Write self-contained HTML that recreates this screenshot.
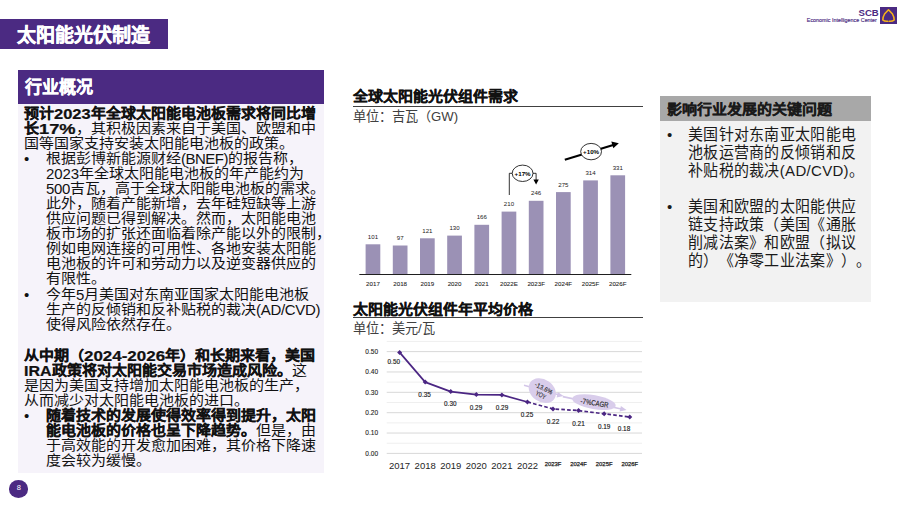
<!DOCTYPE html>
<html lang="zh-CN">
<head>
<meta charset="utf-8">
<style>
*{margin:0;padding:0;box-sizing:border-box}
html,body{width:903px;height:507px;overflow:hidden;background:#fff}
body{position:relative;text-spacing-trim:space-all;font-family:"Liberation Sans",sans-serif;color:#111}
.a{position:absolute;white-space:nowrap}
#tbar{left:0;top:19px;width:168px;height:30px;background:#4b2a82}
#ttl{left:17px;top:20.7px;height:30px;line-height:30px;font-size:19px;font-weight:bold;color:#fff;-webkit-text-stroke:0.45px #fff}
#hbox{left:18px;top:70px;width:306px;height:34px;background:#4b2a82}
#htxt{left:25px;top:70.5px;line-height:34px;font-size:17px;font-weight:bold;color:#fff;-webkit-text-stroke:0.35px #fff}
#lpanel{left:18px;top:103.6px;width:306px;height:369px;background:#f6f3fa}
.lt{font-size:15px;line-height:15px;color:#111;transform:scaleY(0.9);transform-origin:0 7.3px}
.b{font-weight:bold}
.sx{display:inline-block;transform-origin:0 78%}
.lt b{-webkit-text-stroke:0.25px #111}
.bul{font-size:15px;line-height:15px}
#rpanel{left:660px;top:121px;width:211px;height:181px;background:#f2f2f2}
#rhead{left:660px;top:96px;width:211px;height:25px;background:#a8a8a8}
#rhtxt{left:667px;top:96px;line-height:25px;font-size:15px;font-weight:bold;color:#1a1a1a;-webkit-text-stroke:0.25px #1a1a1a;transform:scaleY(0.92);transform-origin:0 12.5px}
.rt{font-size:15px;line-height:15px;color:#1a1a1a;letter-spacing:0.3px;transform:scaleY(1.03);transform-origin:0 7.3px}
.ct{font-size:15px;font-weight:bold;color:#111;line-height:15px;-webkit-text-stroke:0.25px #111;transform:scaleY(0.9);transform-origin:0 7.3px}
.cu{font-size:13.2px;color:#404040;line-height:13px}
.hr{height:1px;background:#404040}
#pg{left:8.6px;top:480.2px;width:19.6px;height:17.6px;border-radius:50%;background:#4b2a82;color:#fff;font-size:7.5px;line-height:15.4px;text-align:center;padding-left:1px}
</style>
</head>
<body>
<div class="a" id="tbar"></div>
<div class="a" id="ttl">太阳能光伏制造</div>

<!-- logo -->
<div class="a" style="left:858.6px;top:7.7px;font-size:9.6px;font-weight:bold;color:#4b2a82;line-height:10px;letter-spacing:-0.1px">SCB</div>
<div class="a" style="left:806.8px;top:17.2px;font-size:5.4px;color:#4b2a82;line-height:7px;-webkit-text-stroke:0.15px #4b2a82">Economic Intelligence Center</div>
<svg class="a" style="left:880px;top:7px" width="17" height="17" viewBox="0 0 17 17">
<rect width="17" height="17" fill="#4b2a82"/>
<path d="M7.7 14.3 Q4.3 14.5 2.8 13.0 Q3.0 9.4 4.5 7.1 L8.5 2.7 L12.5 7.1 Q14.0 9.4 14.2 13.0 Q12.7 14.5 9.3 14.3" fill="none" stroke="#f5b21a" stroke-width="1.55" stroke-linejoin="round" stroke-linecap="round"/>
</svg>

<div class="a" id="hbox"></div>
<div class="a" id="htxt">行业概况</div>
<div class="a" id="lpanel"></div>

<!--LTEXT-->
<div class="a lt" style="left:24.0px;top:106.4px"><b>预计<span class="sx" style="transform:scale(1.1,1.1);margin-right:3.4px">2023</span>年全球太阳能电池板需求将同比增</b></div>
<div class="a lt" style="left:24.0px;top:121.4px"><b>长<span class="sx" style="transform:scale(1.22,1.1);margin-right:6.6px">17%</span></b>，其积极因素来自于美国、欧盟和中</div>
<div class="a lt" style="left:24.0px;top:136.4px">国等国家支持安装太阳能电池板的政策。</div>
<div class="a lt" style="left:46.0px;top:151.4px">根据彭博新能源财经<span class="sx" style="letter-spacing:-0.5px;transform:scaleY(1.12)">(BNEF)</span>的报告称，</div>
<div class="a lt" style="left:46.0px;top:166.4px"><span class="sx" style="letter-spacing:-0.1px;transform:scaleY(1.14)">2023</span>年全球太阳能电池板的年产能约为</div>
<div class="a lt" style="left:46.0px;top:181.4px"><span class="sx" style="letter-spacing:-0.35px;transform:scaleY(1.14)">500</span>吉瓦，高于全球太阳能电池板的需求。</div>
<div class="a lt" style="left:46.0px;top:196.4px">此外，随着产能新增，去年硅短缺等上游</div>
<div class="a lt" style="left:46.0px;top:211.4px">供应问题已得到解决。然而，太阳能电池</div>
<div class="a lt" style="left:46.0px;top:226.4px">板市场的扩张还面临着除产能以外的限制，</div>
<div class="a lt" style="left:46.0px;top:241.4px">例如电网连接的可用性、各地安装太阳能</div>
<div class="a lt" style="left:46.0px;top:256.4px">电池板的许可和劳动力以及逆变器供应的</div>
<div class="a lt" style="left:46.0px;top:271.4px">有限性。</div>
<div class="a lt" style="left:46.0px;top:287.2px">今年<span class="sx" style="transform:scaleY(1.14)">5</span>月美国对东南亚国家太阳能电池板</div>
<div class="a lt" style="left:46.0px;top:302.2px">生产的反倾销和反补贴税的裁决<span class="sx" style="letter-spacing:-0.3px;transform:scaleY(1.12)">(AD/CVD)</span></div>
<div class="a lt" style="left:46.0px;top:317.2px">使得风险依然存在。</div>
<div class="a lt" style="left:24.0px;top:348.2px"><b>从中期（<span class="sx" style="transform:scale(1.13,1.1);margin-right:9.4px">2024-2026</span>年）和长期来看，美国</b></div>
<div class="a lt" style="left:24.0px;top:363.2px"><b><span class="sx" style="transform:scale(1.07,1.1);margin-right:1.8px">IRA</span>政策将对太阳能交易市场造成风险。</b>这</div>
<div class="a lt" style="left:24.0px;top:378.2px">是因为美国支持增加太阳能电池板的生产，</div>
<div class="a lt" style="left:24.0px;top:393.2px">从而减少对太阳能电池板的进口。</div>
<div class="a lt" style="left:46.0px;top:408.2px"><b>随着技术的发展使得效率得到提升，太阳</b></div>
<div class="a lt" style="left:46.0px;top:423.2px"><b>能电池板的价格也呈下降趋势。</b>但是，由</div>
<div class="a lt" style="left:46.0px;top:438.2px">于高效能的开发愈加困难，其价格下降速</div>
<div class="a lt" style="left:46.0px;top:453.2px">度会较为缓慢。</div>
<div class="a bul" style="left:24px;top:151.4px">•</div>
<div class="a bul" style="left:24px;top:287.2px">•</div>
<div class="a bul" style="left:24px;top:408.2px">•</div>
<!--/LTEXT-->


<!-- chart titles -->
<div class="a ct" style="left:353px;top:88.6px">全球太阳能光伏组件需求</div>
<div class="a hr" style="left:353px;top:105.5px;width:290px;height:1.2px"></div>
<div class="a cu" style="left:353px;top:109.8px">单位：吉瓦（GW)</div>
<div class="a ct" style="left:353px;top:301.9px">太阳能光伏组件年平均价格</div>
<div class="a hr" style="left:353px;top:317.2px;width:290px;height:1.2px"></div>
<div class="a cu" style="left:353px;top:321.9px">单位：美元/瓦</div>
<!--CHART-->
<svg class="a" style="left:0;top:0" width="903" height="507" viewBox="0 0 903 507"><style>
.bv{font:6.1px "Liberation Sans",sans-serif;fill:#222;text-anchor:middle}
.by{font:6.2px "Liberation Sans",sans-serif;fill:#222;stroke:#222;stroke-width:0.08px;text-anchor:middle}
.ann{font:bold 6.2px "Liberation Sans",sans-serif;fill:#000;text-anchor:middle}
.yl{font:6.5px "Liberation Sans",sans-serif;fill:#1a1a1a;stroke:#1a1a1a;stroke-width:0.1px;text-anchor:end}
.pv{font:6.4px "Liberation Sans",sans-serif;fill:#1a1a1a;stroke:#1a1a1a;stroke-width:0.15px;text-anchor:middle}
.ly{font:9.5px "Liberation Sans",sans-serif;fill:#262626;text-anchor:middle}
.lys{font:5.9px "Liberation Sans",sans-serif;fill:#222;stroke:#222;stroke-width:0.25px;text-anchor:middle}
.an2{font:6.6px "Liberation Sans",sans-serif;fill:#2e2e2e;stroke:#2e2e2e;stroke-width:0.12px;text-anchor:middle}
.an3{font:7.6px "Liberation Sans",sans-serif;fill:#2a2a2a;stroke:#2a2a2a;stroke-width:0.15px;text-anchor:middle}
</style>
<rect x="365.60" y="244.30" width="14.7" height="30.30" fill="#9b91b5"/>
<text x="372.95" y="238.80" class="bv">101</text>
<text x="372.95" y="285.90" class="by">2017</text>
<rect x="392.80" y="245.50" width="14.7" height="29.10" fill="#9b91b5"/>
<text x="400.15" y="240.00" class="bv">97</text>
<text x="400.15" y="285.90" class="by">2018</text>
<rect x="420.00" y="238.30" width="14.7" height="36.30" fill="#9b91b5"/>
<text x="427.35" y="232.80" class="bv">121</text>
<text x="427.35" y="285.90" class="by">2019</text>
<rect x="447.20" y="235.60" width="14.7" height="39.00" fill="#9b91b5"/>
<text x="454.55" y="230.10" class="bv">130</text>
<text x="454.55" y="285.90" class="by">2020</text>
<rect x="474.40" y="224.80" width="14.7" height="49.80" fill="#9b91b5"/>
<text x="481.75" y="219.30" class="bv">166</text>
<text x="481.75" y="285.90" class="by">2021</text>
<rect x="501.60" y="211.60" width="14.7" height="63.00" fill="#9b91b5"/>
<text x="508.95" y="206.10" class="bv">210</text>
<text x="508.95" y="285.90" class="by">2022E</text>
<rect x="528.80" y="200.80" width="14.7" height="73.80" fill="#9b91b5"/>
<text x="536.15" y="195.30" class="bv">246</text>
<text x="536.15" y="285.90" class="by">2023F</text>
<rect x="556.00" y="192.10" width="14.7" height="82.50" fill="#9b91b5"/>
<text x="563.35" y="186.60" class="bv">275</text>
<text x="563.35" y="285.90" class="by">2024F</text>
<rect x="583.20" y="180.40" width="14.7" height="94.20" fill="#9b91b5"/>
<text x="590.55" y="174.90" class="bv">314</text>
<text x="590.55" y="285.90" class="by">2025F</text>
<rect x="610.40" y="175.30" width="14.7" height="99.30" fill="#9b91b5"/>
<text x="617.75" y="169.80" class="bv">331</text>
<text x="617.75" y="285.90" class="by">2026F</text>
<rect x="359.3" y="274" width="272" height="1" fill="#1f1f1f"/>
<path d="M509.3 195 V173.3 H512.5" fill="none" stroke="#000" stroke-width="0.8"/>
<ellipse cx="522.6" cy="173.3" rx="10.4" ry="8.2" fill="#fff" stroke="#000" stroke-width="0.8"/>
<path d="M533 173.3 H536.1 V180" fill="none" stroke="#000" stroke-width="0.8"/>
<path d="M533.4 179.6 L538.8 179.6 L536.1 184.6 Z" fill="#000"/>
<text x="522.6" y="175.6" class="ann">+17%</text>
<path d="M564.8 159.8 L614 144.7" fill="none" stroke="#000" stroke-width="2"/>
<path d="M618.8 143.2 L611.3 141.6 L613.3 148.3 Z" fill="#000"/>
<ellipse cx="591.1" cy="151.6" rx="10.4" ry="8.2" fill="#fff" stroke="#000" stroke-width="0.8"/>
<text x="591.1" y="153.9" class="ann">+10%</text>
<rect x="386.7" y="452.90" width="255.3" height="1" fill="#d9d9d9"/>
<text x="378" y="455.60" class="yl">0.00</text>
<rect x="386.7" y="442.72" width="255.3" height="1" fill="#efefef"/>
<rect x="386.7" y="432.54" width="255.3" height="1" fill="#d9d9d9"/>
<text x="378" y="435.24" class="yl">0.10</text>
<rect x="386.7" y="422.36" width="255.3" height="1" fill="#efefef"/>
<rect x="386.7" y="412.18" width="255.3" height="1" fill="#d9d9d9"/>
<text x="378" y="414.88" class="yl">0.20</text>
<rect x="386.7" y="402.00" width="255.3" height="1" fill="#efefef"/>
<rect x="386.7" y="391.82" width="255.3" height="1" fill="#d9d9d9"/>
<text x="378" y="394.52" class="yl">0.30</text>
<rect x="386.7" y="381.64" width="255.3" height="1" fill="#efefef"/>
<rect x="386.7" y="371.46" width="255.3" height="1" fill="#d9d9d9"/>
<text x="378" y="374.16" class="yl">0.40</text>
<rect x="386.7" y="361.28" width="255.3" height="1" fill="#efefef"/>
<rect x="386.7" y="351.10" width="255.3" height="1" fill="#d9d9d9"/>
<text x="378" y="353.80" class="yl">0.50</text>
<rect x="386.7" y="340.92" width="255.3" height="1" fill="#efefef"/>
<polyline points="399.60,352.40 425.17,382.10 450.74,391.60 476.31,394.60 501.88,394.90 527.45,402.00" fill="none" stroke="#4b2683" stroke-width="1.7" stroke-linejoin="round"/>
<polyline points="527.45,402.00 553.02,408.90 578.59,410.60 604.16,413.80 629.73,417.00" fill="none" stroke="#4b2683" stroke-width="1.7" stroke-dasharray="3.6 2.2"/>
<path d="M399.60 349.90 L402.10 352.40 L399.60 354.90 L397.10 352.40 Z" fill="#4b2683"/>
<path d="M425.17 379.60 L427.67 382.10 L425.17 384.60 L422.67 382.10 Z" fill="#4b2683"/>
<path d="M450.74 389.10 L453.24 391.60 L450.74 394.10 L448.24 391.60 Z" fill="#4b2683"/>
<path d="M476.31 392.10 L478.81 394.60 L476.31 397.10 L473.81 394.60 Z" fill="#4b2683"/>
<path d="M501.88 392.40 L504.38 394.90 L501.88 397.40 L499.38 394.90 Z" fill="#4b2683"/>
<path d="M527.45 399.50 L529.95 402.00 L527.45 404.50 L524.95 402.00 Z" fill="#4b2683"/>
<path d="M553.02 406.40 L555.52 408.90 L553.02 411.40 L550.52 408.90 Z" fill="#4b2683"/>
<path d="M578.59 408.10 L581.09 410.60 L578.59 413.10 L576.09 410.60 Z" fill="#4b2683"/>
<path d="M604.16 411.30 L606.66 413.80 L604.16 416.30 L601.66 413.80 Z" fill="#4b2683"/>
<path d="M629.73 414.50 L632.23 417.00 L629.73 419.50 L627.23 417.00 Z" fill="#4b2683"/>
<text x="393.80" y="364.00" class="pv">0.50</text>
<text x="424.60" y="396.70" class="pv">0.35</text>
<text x="450.30" y="406.30" class="pv">0.30</text>
<text x="476.00" y="410.00" class="pv">0.29</text>
<text x="502.00" y="410.40" class="pv">0.29</text>
<text x="527.00" y="417.30" class="pv">0.25</text>
<text x="553.00" y="424.20" class="pv">0.22</text>
<text x="578.50" y="425.60" class="pv">0.21</text>
<text x="604.20" y="428.90" class="pv">0.19</text>
<text x="624.00" y="431.10" class="pv">0.18</text>
<text x="399.60" y="468.6" class="ly">2017</text>
<text x="425.17" y="468.6" class="ly">2018</text>
<text x="450.74" y="468.6" class="ly">2019</text>
<text x="476.31" y="468.6" class="ly">2020</text>
<text x="501.88" y="468.6" class="ly">2021</text>
<text x="527.45" y="468.6" class="ly">2022</text>
<text x="553.02" y="466.3" class="lys">2023F</text>
<text x="578.59" y="466.3" class="lys">2024F</text>
<text x="604.16" y="466.3" class="lys">2025F</text>
<text x="629.73" y="466.3" class="lys">2026F</text>
<path d="M524 385.3 L559.5 395" stroke="#d3c6e8" stroke-width="1.6" fill="none"/>
<path d="M563.5 396.1 L557.8 391.9 L556.6 397.6 Z" fill="#d3c6e8"/>
<ellipse cx="542.3" cy="390.6" rx="14.6" ry="11.2" transform="rotate(35 542.3 390.6)" fill="#d9cdeb"/>
<text transform="translate(542.8 390.4) rotate(27)" class="an2" textLength="19" lengthAdjust="spacingAndGlyphs">-13.6%</text>
<text transform="translate(539.8 397.0) rotate(27)" class="an2" textLength="11" lengthAdjust="spacingAndGlyphs">YOY</text>
<path d="M562.8 396.6 L622.6 409.2" stroke="#d3c6e8" stroke-width="1.6" fill="none"/>
<path d="M626.5 410 L620.9 405.9 L619.6 411.6 Z" fill="#d3c6e8"/>
<ellipse cx="594" cy="402.2" rx="22" ry="7" transform="rotate(10 594 402.2)" fill="#d9cdeb"/>
<text transform="translate(594.2 405.6) rotate(9)" class="an3" textLength="28" lengthAdjust="spacingAndGlyphs">-7%CAGR</text>
</svg>
<!--/CHART-->
<div class="a" id="pg">8</div>

<!-- right panel -->
<div class="a" id="rhead"></div>
<div class="a" id="rhtxt">影响行业发展的关键问题</div>
<div class="a" id="rpanel"></div>
<!--RTEXT-->
<div class="a rt" style="left:688px;top:126.6px">美国针对东南亚太阳能电</div>
<div class="a rt" style="left:688px;top:144.7px">池板运营商的反倾销和反</div>
<div class="a rt" style="left:688px;top:162.8px">补贴税的裁决(AD/CVD)。</div>
<div class="a rt" style="left:688px;top:199.0px">美国和欧盟的太阳能供应</div>
<div class="a rt" style="left:688px;top:217.1px">链支持政策（美国《通胀</div>
<div class="a rt" style="left:688px;top:235.2px">削减法案》和欧盟（拟议</div>
<div class="a rt" style="left:688px;top:253.3px">的）《净零工业法案》）。</div>
<div class="a rt" style="left:667px;top:126.6px">•</div>
<div class="a rt" style="left:667px;top:199.0px">•</div>
<!--/RTEXT-->

</body>
</html>
